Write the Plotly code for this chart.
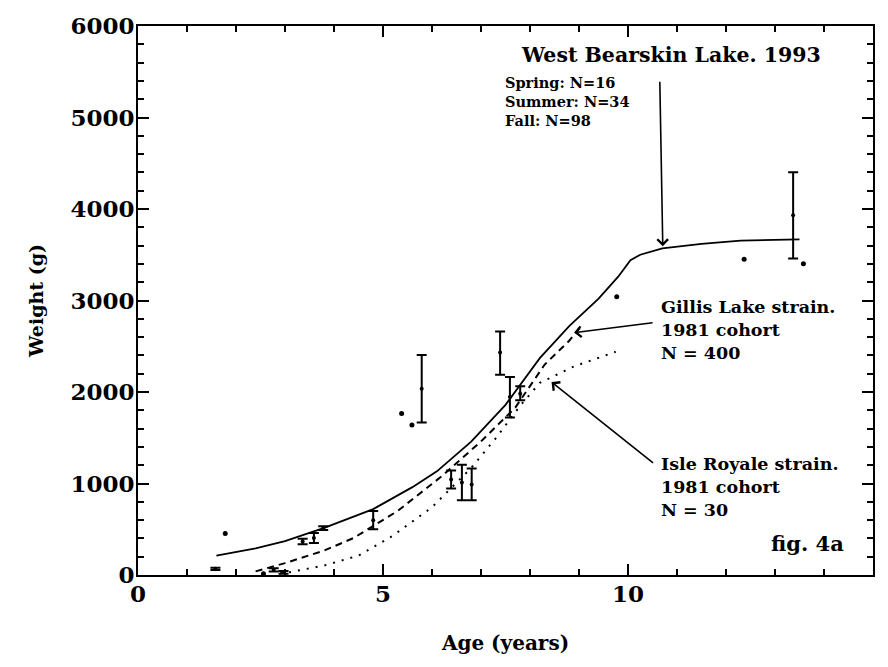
import plotly.graph_objects as go

# West Bearskin Lake fitted growth curve (solid)
wb_age = [1.6, 2.4, 3.0, 3.8, 4.8, 5.6, 6.1, 6.8, 7.5, 8.2, 8.8, 9.4, 9.8, 10.05, 10.25, 10.7, 11.5, 12.3, 13.5]
wb_wt = [212, 290, 370, 515, 720, 960, 1133, 1458, 1860, 2370, 2720, 3020, 3260, 3440, 3500, 3570, 3618, 3654, 3668]

# Gillis Lake strain, 1981 cohort (dashed)
gl_age = [2.4, 3.0, 3.8, 4.4, 5.3, 6.2, 7.0, 7.7, 8.3, 8.8, 9.05]
gl_wt = [40, 130, 267, 404, 700, 1080, 1460, 1830, 2300, 2560, 2720]

# Isle Royale strain, 1981 cohort (dotted)
ir_age = [2.9, 3.1, 3.8, 4.5, 5.2, 6.0, 6.8, 7.3, 7.8, 8.2, 8.9, 9.75]
ir_wt = [20, 31, 104, 212, 429, 740, 1170, 1494, 1850, 2100, 2280, 2440]

# Sample means with error bars
eb_age = [1.58, 2.77, 2.97, 3.36, 3.59, 3.78, 4.80, 5.79, 6.39, 6.61, 6.81, 7.39, 7.59, 7.80, 13.37]
eb_wt = [68, 57, 30, 367, 404, 512, 599, 2036, 1043, 1010, 989, 2433, 1946, 1982, 3932]
eb_plus = [12, 18, 15, 30, 54, 20, 100, 368, 98, 196, 174, 228, 217, 80, 470]
eb_minus = [12, 18, 15, 30, 54, 20, 100, 368, 97, 194, 173, 245, 224, 72, 473]

# Single observations
pt_age = [1.78, 2.56, 5.38, 5.59, 9.77, 12.37, 13.58]
pt_wt = [454, 14, 1765, 1639, 3040, 3452, 3401]

x_ticks = [0, 5, 10, 15]
y_ticks = [0, 1000, 2000, 3000, 4000, 5000, 6000]

FONT = "DejaVu Serif"

fig = go.Figure()
fig.add_trace(go.Scatter(x=wb_age, y=wb_wt, mode="lines", line=dict(color="black", width=1.8), showlegend=False))
fig.add_trace(go.Scatter(x=gl_age, y=gl_wt, mode="lines", line=dict(color="black", width=2, dash="7px,5px"), showlegend=False))
fig.add_trace(go.Scatter(x=ir_age, y=ir_wt, mode="lines", line=dict(color="black", width=2, dash="2px,7px"), showlegend=False))
fig.add_trace(go.Scatter(
    x=eb_age, y=eb_wt, mode="markers",
    marker=dict(color="black", size=4),
    error_y=dict(type="data", symmetric=False, array=eb_plus, arrayminus=eb_minus,
                 color="black", thickness=2, width=5),
    showlegend=False))
fig.add_trace(go.Scatter(x=pt_age, y=pt_wt, mode="markers", marker=dict(color="black", size=5), showlegend=False))
# invisible trace to anchor the mirrored (top/right) tick axes
fig.add_trace(go.Scatter(x=[0, 15], y=[0, 6000], xaxis="x2", yaxis="y2", mode="markers",
                         marker=dict(opacity=0), hoverinfo="skip", showlegend=False))

bold = dict(family=FONT, color="black", weight="bold")

ann = []
ann.append(dict(x=519, y=49, text="West Bearskin Lake. 1993",
                font=dict(size=20.5, **bold), showarrow=False, xanchor="left", yanchor="middle"))
ann.append(dict(x=503, y=96, text="Spring: N=16<br>Summer: N=34<br>Fall: N=98",
                font=dict(size=14.5, **bold), showarrow=False, xanchor="left", yanchor="middle", align="left"))
ann.append(dict(x=659, y=327, text="Gillis Lake strain.<br>1981 cohort<br>N = 400",
                font=dict(size=17.5, **bold), showarrow=False, xanchor="left", yanchor="middle", align="left"))
ann.append(dict(x=659, y=486, text="Isle Royale strain.<br>1981 cohort<br>N = 30",
                font=dict(size=17.5, **bold), showarrow=False, xanchor="left", yanchor="middle", align="left"))
ann.append(dict(x=846, y=543, text="fig. 4a", font=dict(size=21, **bold),
                showarrow=False, xanchor="right", yanchor="middle"))

# convert pixel-positioned text annotations into paper coords
L, R, T, B = 138, 15, 20, 92
W, H = 888, 667
pw, ph = W - L - R, H - T - B
for a in ann:
    a["xref"] = "paper"; a["yref"] = "paper"
    a["x"] = (a["x"] - L) / pw
    a["y"] = 1 - (a["y"] - T) / ph

# arrows (tip in data coords, tail offset in pixels)
arrows = [
    dict(x=10.71, y=3593, ax=-3, ay=-166),
    dict(x=8.9, y=2649, ax=80, ay=-10),
    dict(x=8.44, y=2108, ax=103, ay=82),
]
for a in arrows:
    ann.append(dict(x=a["x"], y=a["y"], xref="x", yref="y", ax=a["ax"], ay=a["ay"],
                    axref="pixel", ayref="pixel", text="", showarrow=True,
                    arrowhead=4, arrowsize=1.3, arrowwidth=1.6, arrowcolor="black"))

common = dict(ticks="inside", ticklen=11, tickwidth=2, tickcolor="black",
              showline=True, linecolor="black", linewidth=2,
              showgrid=False, zeroline=False)

fig.update_layout(
    width=W, height=H,
    margin=dict(l=L, r=R, t=T, b=B),
    paper_bgcolor="white", plot_bgcolor="white",
    annotations=ann,
    xaxis=dict(range=[0, 15], tickvals=x_ticks, ticktext=[str(v) for v in x_ticks],
               minor=dict(dtick=1, ticks="inside", ticklen=6, tickwidth=1.5, tickcolor="black"),
               tickfont=dict(size=23, **bold), ticklabelstandoff=-3,
               title=dict(text="Age (years)", font=dict(size=20, **bold), standoff=30), **common),
    yaxis=dict(range=[0, 6000], tickvals=y_ticks, ticktext=[str(v) for v in y_ticks],
               minor=dict(dtick=200, ticks="inside", ticklen=6, tickwidth=1.5, tickcolor="black"),
               tickfont=dict(size=23, **bold), ticklabelstandoff=-3,
               title=dict(text="Weight (g)", font=dict(size=19, **bold), standoff=22), **common),
    xaxis2=dict(range=[0, 15], tickvals=x_ticks, overlaying="x", side="top", anchor="y2",
                showticklabels=False,
                minor=dict(dtick=1, ticks="inside", ticklen=6, tickwidth=1.5, tickcolor="black"), **common),
    yaxis2=dict(range=[0, 6000], tickvals=y_ticks, overlaying="y", side="right", anchor="x2",
                showticklabels=False,
                minor=dict(dtick=200, ticks="inside", ticklen=6, tickwidth=1.5, tickcolor="black"), **common),
)

fig.write_html("out.html")
